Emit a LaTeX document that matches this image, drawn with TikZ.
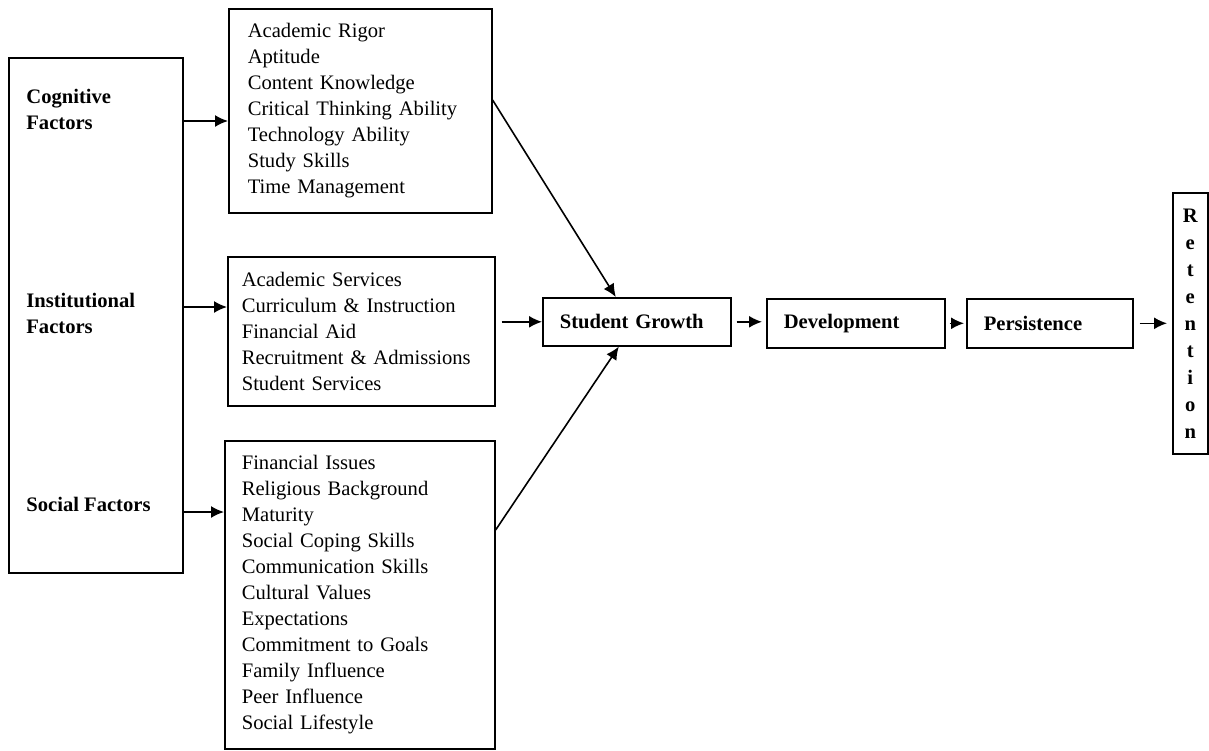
\documentclass[tikz,border=0pt]{standalone}
\usepackage{fontspec}
\setmainfont{Liberation Serif}
\usetikzlibrary{shapes, arrows.meta, positioning}
\newcommand{\basefont}{\fontsize{10.3}{13}\selectfont}
\tikzstyle{factorbox} = [draw, line width=0.8pt, rectangle, anchor=north west, inner sep=0pt]
\tikzstyle{factorlabel} = [anchor=west, align=left, inner sep=0pt, font=\basefont\bfseries]
\tikzstyle{listbox} = [draw, line width=0.8pt, rectangle, anchor=north west, align=left, inner ysep=0pt, font=\basefont]
\tikzstyle{stagebox} = [draw, line width=0.8pt, rectangle, anchor=north west, align=left, inner xsep=8.5pt, minimum height=24.5pt, font=\basefont\bfseries]
\tikzstyle{link} = [-{Latex[length=6.5pt,width=6pt]}, line width=0.8pt]

\begin{document}
\begin{tikzpicture}[x=0.5pt, y=-0.5pt]
	\useasboundingbox (0,0) rectangle (1209,750);
	% factors
	\node [factorbox, minimum width=87pt, minimum height=257.5pt] (factors) at (8,57) {};
	\node [factorlabel] (cognitive) at (26,109) {Cognitive\\Factors};
	\node [factorlabel] (institutional) at (26,313) {Institutional\\Factors};
	\node [factorlabel] (social) at (26,504) {Social Factors};
	% lists
	\node [listbox, inner xsep=9.5pt, text width=112.5pt, minimum height=102pt] (cogbox) at (228,8) {%
		Academic Rigor\\Aptitude\\Content Knowledge\\Critical Thinking Ability\\Technology Ability\\Study Skills\\Time Management};
	\node [listbox, inner xsep=7pt, text width=119.5pt, minimum height=74.5pt] (instbox) at (227,256) {%
		Academic Services\\Curriculum \& Instruction\\Financial Aid\\Recruitment \& Admissions\\Student Services};
	\node [listbox, inner xsep=8.5pt, text width=118pt, minimum height=154pt] (socbox) at (224,440) {%
		Financial Issues\\Religious Background\\Maturity\\Social Coping Skills\\Communication Skills\\Cultural Values\\Expectations\\Commitment to Goals\\Family Influence\\Peer Influence\\Social Lifestyle};
	% stages
	\node [stagebox, text width=77pt, minimum height=24pt] (growth) at (542,297) {Student Growth};
	\node [stagebox, text width=72pt] (development) at (766,298) {Development};
	\node [stagebox, text width=66pt] (persistence) at (966,298) {Persistence};
	\node [stagebox, align=center, inner sep=0pt, minimum width=17.5pt, minimum height=130.5pt, font=\fontsize{10.3}{13.5}\selectfont\bfseries] (retention) at (1172,192) {R\\e\\t\\e\\n\\t\\i\\o\\n};
	% arrows
	\draw [link] (factors.east |- 0,121) -- (cogbox.west |- 0,121);
	\draw [link] (factors.east |- 0,307) -- (instbox.west |- 0,307);
	\draw [link] (factors.east |- 0,512) -- (socbox.west |- 0,512);
	\draw [link] (cogbox.east |- 0,100) -- ([xshift=-10.5pt]growth.north);
	\draw [link, shorten <=3pt] (instbox.east |- growth.west) -- (growth.west);
	\draw [link] (socbox.east |- 0,530) -- ([xshift=-9pt]growth.south);
	\draw [link, shorten <=2.5pt, shorten >=2pt] (growth.east) -- (growth.east -| development.west);
	\draw [link, shorten <=2pt, shorten >=1pt] (development.east) -- (development.east -| persistence.west);
	\draw [link, shorten <=3pt, shorten >=2.5pt] (persistence.east) -- (persistence.east -| retention.west);
\end{tikzpicture}
\end{document}
